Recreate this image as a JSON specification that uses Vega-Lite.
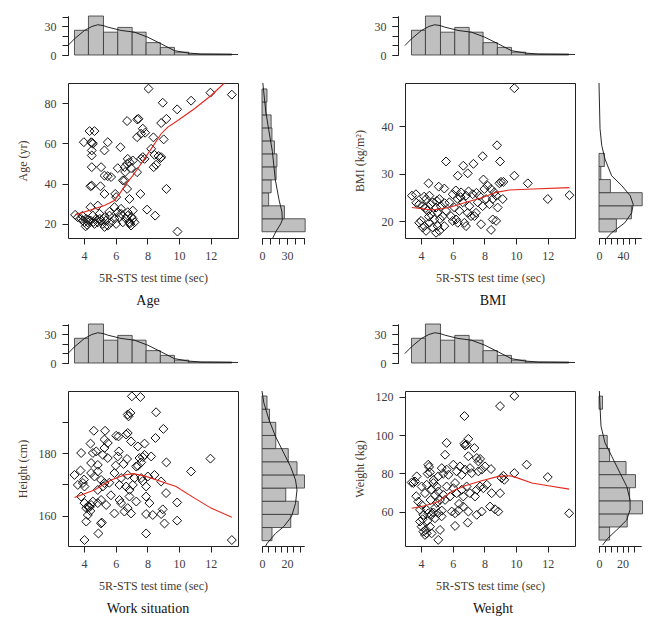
{
"$schema": "https://vega.github.io/schema/vega-lite/v6.json",
"padding": {"left": 15, "top": 15, "right": 5, "bottom": 5},
"config": {
 "font": "Liberation Serif",
 "view": {"stroke": null},
 "axis": {"grid": false, "labelFont": "Liberation Serif", "titleFont": "Liberation Serif", "labelFontSize": 12, "titleFontSize": 12, "titleFontWeight": "normal", "labelColor": "#3d3d3d", "titleColor": "#4a3b30", "tickColor": "#222", "domainColor": "#222", "tickSize": 6, "labelPadding": 6, "labelFlush": false, "labelOverlap": false},
 "title": {"font": "Liberation Serif", "fontSize": 14, "fontWeight": "normal", "color": "#111"}
},
"datasets": {
 "empty": [],
 "topbins": [{"x0":3.4,"x1":4.28,"n":26},{"x0":4.28,"x1":5.23,"n":41},{"x0":5.23,"x1":6.13,"n":24},{"x0":6.13,"x1":7.04,"n":29},{"x0":7.04,"x1":7.92,"n":24},{"x0":7.92,"x1":8.82,"n":13},{"x0":8.82,"x1":9.71,"n":8},{"x0":9.71,"x1":10.61,"n":3},{"x0":10.61,"x1":11.54,"n":1},{"x0":11.54,"x1":12.45,"n":1},{"x0":12.45,"x1":13.33,"n":1}],
 "topdens": [{"x":2.98,"d":9.9},{"x":3.4,"d":17},{"x":4.03,"d":25.8},{"x":4.5,"d":30},{"x":4.87,"d":31.8},{"x":5.2,"d":31},{"x":5.5,"d":29.3},{"x":6.34,"d":25.8},{"x":7.18,"d":24},{"x":8.03,"d":18.7},{"x":8.87,"d":11.7},{"x":9.7,"d":4.6},{"x":10.55,"d":2.1},{"x":11.4,"d":1},{"x":12.45,"d":0.8},{"x":13.72,"d":0.5}],
 "age_pts": [{"x":8.07,"v":87.2},{"x":11.98,"v":85.2},{"x":13.33,"v":84.2},{"x":8.97,"v":80.2},{"x":10.76,"v":81.2},{"x":9.88,"v":76.9},{"x":6.72,"v":71.1},{"x":7.44,"v":72.2},{"x":7.36,"v":71.9},{"x":8.87,"v":70.1},{"x":9.2,"v":72.2},{"x":7.71,"v":67.3},{"x":7.6,"v":64.8},{"x":7.35,"v":63.1},{"x":7.86,"v":65.3},{"x":8.38,"v":63},{"x":9.03,"v":62},{"x":4.35,"v":66.1},{"x":4.66,"v":66.1},{"x":3.99,"v":60.6},{"x":4.45,"v":60.6},{"x":4.51,"v":60.3},{"x":4.56,"v":59.8},{"x":5.5,"v":60.6},{"x":5.29,"v":56.5},{"x":4.49,"v":56.5},{"x":4.49,"v":54},{"x":6.3,"v":58.1},{"x":6.76,"v":52.3},{"x":6.87,"v":50.6},{"x":7.08,"v":51.5},{"x":6.72,"v":49.8},{"x":7.6,"v":52.3},{"x":7.71,"v":53.2},{"x":7.82,"v":52.3},{"x":8.24,"v":57.3},{"x":8.45,"v":54.3},{"x":8.7,"v":53.7},{"x":8.87,"v":53.2},{"x":8.83,"v":52.7},{"x":8.4,"v":48.2},{"x":8.55,"v":49.4},{"x":7.35,"v":45.7},{"x":6.13,"v":47.7},{"x":6.56,"v":48.2},{"x":6.97,"v":47.7},{"x":6.6,"v":45.8},{"x":4.49,"v":48.2},{"x":5.08,"v":48.2},{"x":5.5,"v":43.7},{"x":5.29,"v":44},{"x":5.71,"v":43.3},{"x":4.41,"v":38.7},{"x":4.49,"v":39},{"x":5.04,"v":38.7},{"x":5.29,"v":34.9},{"x":6.45,"v":41.6},{"x":6.56,"v":41.6},{"x":6.72,"v":37.4},{"x":7.56,"v":34.9},{"x":9.2,"v":37.4},{"x":5.97,"v":34.9},{"x":6.03,"v":33.3},{"x":5.92,"v":28.3},{"x":6.87,"v":32.4},{"x":6.34,"v":27.5},{"x":7.98,"v":27.1},{"x":8.49,"v":24.1},{"x":9.9,"v":16.2},{"x":4.87,"v":29.1},{"x":4.41,"v":28.3},{"x":3.44,"v":24.5},{"x":3.61,"v":23.3},{"x":3.82,"v":22.5},{"x":3.93,"v":21.7},{"x":4.03,"v":20.8},{"x":4.14,"v":22.5},{"x":4.24,"v":20.8},{"x":4.41,"v":21.7},{"x":4.56,"v":24.1},{"x":4.66,"v":20},{"x":4.77,"v":22.5},{"x":4.87,"v":20.8},{"x":4.98,"v":25},{"x":5.08,"v":21.7},{"x":5.19,"v":20},{"x":5.29,"v":23.3},{"x":5.4,"v":21.7},{"x":5.5,"v":19.2},{"x":5.61,"v":24.1},{"x":5.71,"v":20.8},{"x":5.92,"v":22.5},{"x":6.03,"v":20},{"x":6.13,"v":25.8},{"x":6.24,"v":23.3},{"x":6.34,"v":25},{"x":6.45,"v":20.8},{"x":6.66,"v":22.5},{"x":6.76,"v":24.1},{"x":6.87,"v":20.8},{"x":6.97,"v":19.2},{"x":7.08,"v":22.5},{"x":7.19,"v":20.8},{"x":6.76,"v":25.8},{"x":7.08,"v":26.6},{"x":4.2,"v":19.5},{"x":4.3,"v":22},{"x":3.9,"v":24},{"x":4.6,"v":21},{"x":5.0,"v":22.5},{"x":5.3,"v":18.5},{"x":4.1,"v":18.8},{"x":6.9,"v":20.3},{"x":7.0,"v":23.5},{"x":5.6,"v":26}],
 "age_loess": [{"x":3.44,"v":24.5},{"x":4.66,"v":27.5},{"x":5.29,"v":29.1},{"x":5.92,"v":31.6},{"x":6.24,"v":34.9},{"x":6.66,"v":39.9},{"x":7.08,"v":44},{"x":7.6,"v":49.9},{"x":8.24,"v":57.3},{"x":8.87,"v":64.8},{"x":9.29,"v":68.1},{"x":9.92,"v":71.4},{"x":10.97,"v":77.2},{"x":12.02,"v":83.8},{"x":12.86,"v":90}],
 "age_bins": [{"y0":16.1,"y1":22.55,"n":52},{"y0":22.55,"y1":29,"n":27},{"y0":29,"y1":35.45,"n":8},{"y0":35.45,"y1":41.9,"n":11},{"y0":41.9,"y1":48.35,"n":17},{"y0":48.35,"y1":54.8,"n":18},{"y0":54.8,"y1":61.25,"n":15},{"y0":61.25,"y1":67.7,"n":12},{"y0":67.7,"y1":74.15,"n":11},{"y0":74.15,"y1":80.6,"n":5},{"y0":80.6,"y1":87.05,"n":6}],
 "age_dens": [{"d":1,"y":90},{"d":4.5,"y":76},{"d":8,"y":67},{"d":12.5,"y":56},{"d":16,"y":42},{"d":20.5,"y":32},{"d":24,"y":26},{"d":24.5,"y":22},{"d":22.5,"y":20},{"d":16.5,"y":16},{"d":13,"y":13}],
 "bmi_pts": [{"x":9.89,"v":48},{"x":8.8,"v":36},{"x":5.58,"v":32.6},{"x":7.89,"v":33.7},{"x":6.67,"v":31.7},{"x":7.31,"v":32.1},{"x":8.99,"v":32.6},{"x":6.32,"v":29.6},{"x":6.95,"v":30.1},{"x":9.89,"v":29.6},{"x":10.74,"v":28},{"x":7.94,"v":28.8},{"x":9.05,"v":28.3},{"x":9.2,"v":28.3},{"x":8.95,"v":28},{"x":4.48,"v":28},{"x":5.12,"v":27.3},{"x":5.47,"v":26.9},{"x":3.43,"v":25.4},{"x":3.68,"v":25.7},{"x":12,"v":24.7},{"x":13.37,"v":25.5},{"x":8.74,"v":25.4},{"x":9.16,"v":24.7},{"x":8.84,"v":22.9},{"x":8.53,"v":20.4},{"x":7.79,"v":19.4},{"x":8.42,"v":18.2},{"x":8.74,"v":20.1},{"x":3.89,"v":23.6},{"x":4.11,"v":23.2},{"x":4.32,"v":24.7},{"x":4.42,"v":22.2},{"x":4.53,"v":25.4},{"x":4.63,"v":21.5},{"x":4.74,"v":24},{"x":4.84,"v":20.4},{"x":4.95,"v":22.9},{"x":5.05,"v":21.8},{"x":5.16,"v":24.7},{"x":5.26,"v":23.2},{"x":5.37,"v":21.1},{"x":5.47,"v":19},{"x":5.58,"v":22.2},{"x":5.79,"v":24},{"x":5.89,"v":21.1},{"x":6,"v":25.7},{"x":6.11,"v":22.9},{"x":6.21,"v":20.4},{"x":6.32,"v":24.7},{"x":6.42,"v":22.2},{"x":6.53,"v":26.1},{"x":6.63,"v":24},{"x":6.74,"v":19.7},{"x":6.84,"v":25.4},{"x":6.95,"v":21.8},{"x":7.05,"v":23.2},{"x":7.16,"v":21.1},{"x":7.26,"v":25.7},{"x":7.47,"v":21.8},{"x":7.58,"v":24},{"x":7.68,"v":25.4},{"x":7.89,"v":23.2},{"x":8,"v":26.8},{"x":8.11,"v":24.7},{"x":8.21,"v":27.5},{"x":8.32,"v":23.6},{"x":8.42,"v":26.8},{"x":8.53,"v":24.7},{"x":8.63,"v":26.1},{"x":4.21,"v":19},{"x":4.32,"v":18},{"x":4.53,"v":19.7},{"x":4.74,"v":18.7},{"x":4.95,"v":17.6},{"x":5.05,"v":19},{"x":5.16,"v":18},{"x":4.11,"v":18.7},{"x":4,"v":20.1},{"x":3.89,"v":19.7},{"x":6,"v":20.1},{"x":6.32,"v":19.7},{"x":6.84,"v":19},{"x":7.37,"v":21.1},{"x":4.3,"v":22.8},{"x":4.6,"v":23.5},{"x":5.0,"v":24.3},{"x":5.5,"v":23.8},{"x":4.2,"v":25.2},{"x":3.7,"v":23.9},{"x":6.5,"v":25.1},{"x":7.0,"v":26.3},{"x":7.5,"v":26},{"x":6.2,"v":26.5},{"x":4.5,"v":21},{"x":5.2,"v":20.5}],
 "bmi_loess": [{"x":3.43,"v":22.9},{"x":4.2,"v":22.6},{"x":4.74,"v":22.4},{"x":5.79,"v":22.9},{"x":6.84,"v":24},{"x":7.89,"v":25},{"x":8.74,"v":26.1},{"x":9.58,"v":26.6},{"x":11.05,"v":26.8},{"x":13.37,"v":27.1}],
 "bmi_bins": [{"y0":17.78,"y1":20.53,"n":29},{"y0":20.53,"y1":23.28,"n":54},{"y0":23.28,"y1":26.04,"n":72},{"y0":26.04,"y1":28.79,"n":19},{"y0":28.79,"y1":31.54,"n":3},{"y0":31.54,"y1":34.29,"n":9}],
 "bmi_dens": [{"d":0,"y":49.1},{"d":1.7,"y":39.5},{"d":4.5,"y":36},{"d":10,"y":33.1},{"d":21,"y":29.6},{"d":38,"y":27.5},{"d":52,"y":25.4},{"d":57,"y":23.6},{"d":54.5,"y":21.8},{"d":43,"y":19.7},{"d":21,"y":17.6},{"d":13,"y":16.5}],
 "ht_pts": [{"x":7.02,"v":198.1},{"x":7.56,"v":197.9},{"x":6.76,"v":192.3},{"x":6.81,"v":191.7},{"x":6.93,"v":192.8},{"x":8.55,"v":193},{"x":4.62,"v":187.1},{"x":5.33,"v":187.1},{"x":6.18,"v":185.3},{"x":6.03,"v":185.5},{"x":6.66,"v":185.9},{"x":6.76,"v":186.4},{"x":9.01,"v":187.7},{"x":4.41,"v":183},{"x":5.29,"v":184.3},{"x":5.5,"v":183.2},{"x":7.4,"v":182.1},{"x":7.82,"v":183},{"x":8.51,"v":184.8},{"x":6.97,"v":183.7},{"x":3.82,"v":180},{"x":4.56,"v":180},{"x":4.77,"v":180.5},{"x":5.19,"v":179.4},{"x":5.29,"v":181.6},{"x":5.5,"v":178.4},{"x":6.13,"v":178.9},{"x":6.72,"v":178.1},{"x":7.5,"v":178.4},{"x":7.71,"v":178.7},{"x":7.82,"v":179.4},{"x":7.61,"v":177},{"x":7.4,"v":175.9},{"x":7.29,"v":175.7},{"x":8.24,"v":178.9},{"x":9.2,"v":177},{"x":11.98,"v":178.2},{"x":10.76,"v":174.1},{"x":3.4,"v":173},{"x":3.78,"v":174.4},{"x":4.45,"v":173.6},{"x":4.66,"v":172.5},{"x":4.87,"v":174.1},{"x":4.45,"v":176.8},{"x":4.87,"v":176.2},{"x":3.61,"v":169.8},{"x":3.93,"v":170.4},{"x":4.03,"v":169.3},{"x":5.08,"v":171.4},{"x":5.29,"v":170.4},{"x":4.87,"v":168.2},{"x":5.19,"v":169.3},{"x":5.92,"v":173.6},{"x":6.34,"v":172},{"x":6.76,"v":173},{"x":7.19,"v":172},{"x":7.61,"v":172},{"x":8.03,"v":172.5},{"x":8.45,"v":173},{"x":6.24,"v":169.8},{"x":6.66,"v":169.3},{"x":6.87,"v":168.2},{"x":7.08,"v":169.8},{"x":7.92,"v":169.3},{"x":8.87,"v":170.9},{"x":9.18,"v":167.2},{"x":9.88,"v":164.2},{"x":9.88,"v":158.4},{"x":3.82,"v":166.1},{"x":4.03,"v":164},{"x":4.14,"v":162.4},{"x":4.24,"v":162.9},{"x":4.35,"v":162.7},{"x":4.45,"v":163.4},{"x":4.56,"v":164.5},{"x":4.24,"v":160.2},{"x":4.14,"v":158.1},{"x":5.08,"v":165},{"x":5.4,"v":163.4},{"x":4.87,"v":164},{"x":5.92,"v":160.7},{"x":6.24,"v":165},{"x":6.34,"v":164},{"x":6.55,"v":161.3},{"x":6.76,"v":162.4},{"x":6.97,"v":160.7},{"x":6.87,"v":166.1},{"x":7.92,"v":160.5},{"x":8.13,"v":164},{"x":7.92,"v":166.1},{"x":8.34,"v":160.2},{"x":8.87,"v":160.5},{"x":8.97,"v":162},{"x":9.08,"v":157.5},{"x":5.08,"v":157.5},{"x":5.12,"v":157.8},{"x":4.91,"v":154.3},{"x":4.03,"v":152.2},{"x":7.92,"v":154.3},{"x":13.33,"v":152.2},{"x":4.3,"v":163},{"x":4.4,"v":161.5},{"x":5.6,"v":170.5},{"x":6.0,"v":176},{"x":6.5,"v":176.5},{"x":5.7,"v":166.5},{"x":7.3,"v":164.5},{"x":7.7,"v":171},{"x":4.0,"v":171.5},{"x":6.2,"v":180.5}],
 "ht_loess": [{"x":3.4,"v":165.8},{"x":4.66,"v":168.2},{"x":5.71,"v":171.4},{"x":6.55,"v":173},{"x":7.08,"v":173.4},{"x":7.82,"v":172.7},{"x":8.87,"v":170.9},{"x":9.81,"v":169.3},{"x":10.97,"v":165.6},{"x":12.02,"v":162.4},{"x":13.33,"v":159.5}],
 "ht_bins": [{"y0":152,"y1":156.2,"n":8},{"y0":156.2,"y1":160.4,"n":23},{"y0":160.4,"y1":164.6,"n":29},{"y0":164.6,"y1":168.8,"n":19},{"y0":168.8,"y1":173,"n":34},{"y0":173,"y1":177.2,"n":28},{"y0":177.2,"y1":181.4,"n":21},{"y0":181.4,"y1":185.6,"n":11},{"y0":185.6,"y1":189.8,"n":11},{"y0":189.8,"y1":194,"n":6},{"y0":194,"y1":198.2,"n":4}],
 "ht_dens": [{"d":0,"y":199.8},{"d":1.5,"y":196},{"d":5.5,"y":190.7},{"d":10.8,"y":185.3},{"d":17.4,"y":180},{"d":22.8,"y":175.7},{"d":26.8,"y":171.4},{"d":28,"y":168.2},{"d":26.8,"y":163.9},{"d":23.6,"y":159.7},{"d":17.4,"y":156.5},{"d":10.8,"y":154.3},{"d":4,"y":151.1},{"d":3,"y":150.3}],
 "wt_pts": [{"x":9.89,"v":120.4},{"x":8.99,"v":115.1},{"x":6.74,"v":109.9},{"x":5.62,"v":95.9},{"x":6.99,"v":98},{"x":6.88,"v":95},{"x":6.99,"v":88.9},{"x":6.78,"v":94.5},{"x":6.74,"v":95.5},{"x":7.37,"v":93.2},{"x":7.52,"v":88},{"x":7.62,"v":86.2},{"x":7.73,"v":87.5},{"x":10.67,"v":84.5},{"x":9.89,"v":80.1},{"x":12,"v":78},{"x":13.35,"v":59.1},{"x":9.2,"v":78.7},{"x":9.26,"v":76.6},{"x":9.09,"v":77.5},{"x":4.46,"v":84.5},{"x":4.51,"v":83.3},{"x":4.57,"v":80.5},{"x":4.42,"v":79.8},{"x":3.52,"v":74.9},{"x":3.41,"v":75.2},{"x":3.73,"v":78.4},{"x":3.62,"v":75.7},{"x":5.52,"v":89.7},{"x":5.31,"v":82.7},{"x":5.09,"v":78.4},{"x":5.41,"v":79.8},{"x":5.62,"v":81.9},{"x":5.73,"v":79.2},{"x":6.04,"v":84.5},{"x":6.25,"v":81},{"x":6.46,"v":83.6},{"x":6.57,"v":79.2},{"x":6.78,"v":81.9},{"x":7.09,"v":82.7},{"x":7.2,"v":80.1},{"x":7.62,"v":81},{"x":7.83,"v":81.9},{"x":8.04,"v":83.6},{"x":8.42,"v":82.2},{"x":4.04,"v":73.1},{"x":4.25,"v":69.6},{"x":4.36,"v":74},{"x":4.67,"v":71.4},{"x":4.78,"v":74.9},{"x":4.88,"v":68.7},{"x":4.99,"v":73.1},{"x":5.09,"v":70.5},{"x":5.2,"v":66.1},{"x":5.41,"v":68.7},{"x":5.62,"v":73.1},{"x":5.83,"v":67.9},{"x":6.04,"v":72.2},{"x":6.15,"v":74.9},{"x":6.25,"v":69.6},{"x":6.57,"v":71.4},{"x":6.67,"v":67.9},{"x":6.88,"v":73.1},{"x":7.09,"v":69.6},{"x":7.41,"v":67.9},{"x":7.52,"v":71.4},{"x":7.73,"v":73.1},{"x":7.94,"v":72.2},{"x":8.15,"v":74},{"x":8.46,"v":69.6},{"x":8.99,"v":69.6},{"x":3.83,"v":65.2},{"x":3.94,"v":60.9},{"x":4.04,"v":63.5},{"x":4.15,"v":58.3},{"x":4.36,"v":60.9},{"x":4.46,"v":59.1},{"x":4.67,"v":58.3},{"x":4.78,"v":59.5},{"x":4.88,"v":56.5},{"x":5.09,"v":59.1},{"x":5.31,"v":60.5},{"x":5.52,"v":66.1},{"x":5.94,"v":60},{"x":6.15,"v":59.1},{"x":6.36,"v":60.5},{"x":6.67,"v":62.6},{"x":6.99,"v":60},{"x":7.52,"v":58.3},{"x":7.83,"v":60},{"x":8.36,"v":62.6},{"x":8.67,"v":61.2},{"x":8.88,"v":60},{"x":3.94,"v":54.8},{"x":4.04,"v":52.1},{"x":4.15,"v":49.5},{"x":4.36,"v":48.6},{"x":4.25,"v":47.8},{"x":4.57,"v":52.1},{"x":4.67,"v":48.6},{"x":5.09,"v":45.2},{"x":5.2,"v":50.4},{"x":6.15,"v":52.5},{"x":6.95,"v":54.2},{"x":4.1,"v":56},{"x":4.4,"v":55},{"x":4.9,"v":62},{"x":5.0,"v":64.5},{"x":4.6,"v":66},{"x":5.3,"v":57.5},{"x":4.3,"v":50.5},{"x":4.8,"v":76.5},{"x":6.4,"v":64},{"x":3.7,"v":68}],
 "wt_loess": [{"x":3.41,"v":61.7},{"x":4.25,"v":63},{"x":5.09,"v":65.2},{"x":5.94,"v":70.5},{"x":6.78,"v":73.5},{"x":7.83,"v":76.1},{"x":8.88,"v":78.4},{"x":9.62,"v":78.7},{"x":9.94,"v":78},{"x":11.0,"v":74.9},{"x":12.04,"v":73.5},{"x":13.35,"v":71.7}],
 "wt_bins": [{"y0":45.1,"y1":51.94,"n":9},{"y0":51.94,"y1":58.78,"n":24},{"y0":58.78,"y1":65.62,"n":37},{"y0":65.62,"y1":72.46,"n":26},{"y0":72.46,"y1":79.3,"n":31},{"y0":79.3,"y1":86.14,"n":23},{"y0":86.14,"y1":92.98,"n":9},{"y0":92.98,"y1":99.82,"n":7},{"y0":113.5,"y1":120.34,"n":3}],
 "wt_dens": [{"d":0.3,"y":123},{"d":0.85,"y":115},{"d":1.7,"y":104.6},{"d":5.1,"y":95.9},{"d":10.8,"y":88.9},{"d":17.9,"y":80.1},{"d":23.6,"y":73.1},{"d":26.4,"y":66.1},{"d":26.4,"y":60.9},{"d":23.6,"y":55.6},{"d":15.1,"y":50.4},{"d":7.4,"y":46},{"d":3.1,"y":42.5}]
},
"columns": 5,
"align": "each",
"bounds": "flush",
"spacing": {"row": 28, "column": 24},
"concat": [
 {"width": 170, "height": 39, "resolve": {"axis": {"y": "independent"}}, "layer": [
  {"data": {"name": "topbins"}, "mark": {"type": "rect", "fill": "#bfbfbf", "stroke": "#333", "strokeWidth": 0.8},
   "encoding": {"x": {"field": "x0", "type": "quantitative", "scale": {"domain": [2.99, 13.72], "nice": false, "zero": false}, "axis": null}, "x2": {"field": "x1"},
    "y": {"field": "n", "type": "quantitative", "scale": {"domain": [0, 41], "nice": false}, "axis": {"values": [0,10,20,30,40], "labels": false, "title": null, "orient": "left"}}, "y2": {"datum": 0}}},
  {"data": {"name": "topdens"}, "mark": {"type": "line", "color": "#111", "strokeWidth": 0.9},
   "encoding": {"x": {"field": "x", "type": "quantitative"}, "y": {"field": "d", "type": "quantitative", "axis": {"values": [0,30], "title": null, "orient": "left"}}}}
 ]},
 {"width": 1, "height": 1, "data": {"name": "empty"}, "mark": "point"},
 {"width": 52.5, "height": 1, "data": {"name": "empty"}, "mark": "point"},
 {"width": 170, "height": 39, "resolve": {"axis": {"y": "independent"}}, "layer": [
  {"data": {"name": "topbins"}, "mark": {"type": "rect", "fill": "#bfbfbf", "stroke": "#333", "strokeWidth": 0.8},
   "encoding": {"x": {"field": "x0", "type": "quantitative", "scale": {"domain": [2.99, 13.72], "nice": false, "zero": false}, "axis": null}, "x2": {"field": "x1"},
    "y": {"field": "n", "type": "quantitative", "scale": {"domain": [0, 41], "nice": false}, "axis": {"values": [0,10,20,30,40], "labels": false, "title": null, "offset": 7, "orient": "left"}}, "y2": {"datum": 0}}},
  {"data": {"name": "topdens"}, "mark": {"type": "line", "color": "#111", "strokeWidth": 0.9},
   "encoding": {"x": {"field": "x", "type": "quantitative"}, "y": {"field": "d", "type": "quantitative", "axis": {"values": [0,30], "title": null, "offset": 7, "orient": "left"}}}}
 ]},
 {"width": 1, "height": 1, "data": {"name": "empty"}, "mark": "point"},

 {"width": 170, "height": 155, "view": {"stroke": "#222", "strokeWidth": 1},
  "title": {"text": "Age", "orient": "bottom", "anchor": "middle", "frame": "group", "offset": 11, "dx": -5},
  "layer": [
   {"data": {"name": "age_pts"}, "mark": {"type": "point", "shape": "diamond", "filled": false, "size": 80, "stroke": "#111", "strokeWidth": 1, "opacity": 1},
    "encoding": {"x": {"field": "x", "type": "quantitative", "scale": {"domain": [2.99, 13.72], "nice": false, "zero": false}, "axis": {"values": [4,6,8,10,12], "title": "5R-STS test time (sec)", "domain": false, "labelPadding": 6.5, "titleY": 39, "titleBaseline": "middle"}},
     "y": {"field": "v", "type": "quantitative", "scale": {"domain": [13, 90], "nice": false, "zero": false}, "axis": {"values": [20,30,40,50,60,70,80], "labelExpr": "datum.value % 20 == 0 ? datum.label : ''", "title": "Age (yr)", "domain": false, "titleX": -46, "titleY": 77.5, "titleBaseline": "middle"}}}},
   {"data": {"name": "age_loess"}, "mark": {"type": "line", "color": "#e3261b", "strokeWidth": 1.1},
    "encoding": {"x": {"field": "x", "type": "quantitative"}, "y": {"field": "v", "type": "quantitative"}}}
  ]},
 {"width": 42, "height": 155, "resolve": {"axis": {"x": "independent"}}, "layer": [
   {"data": {"name": "age_bins"}, "mark": {"type": "rect", "fill": "#bfbfbf", "stroke": "#333", "strokeWidth": 0.8},
    "encoding": {"y": {"field": "y0", "type": "quantitative", "scale": {"domain": [13, 90], "nice": false, "zero": false}, "axis": null}, "y2": {"field": "y1"},
     "x": {"field": "n", "type": "quantitative", "scale": {"domain": [0, 50.6], "nice": false}, "axis": {"values": [0,10,20,30,40,50], "labels": false, "title": null, "orient": "bottom"}}, "x2": {"datum": 0}}},
   {"data": {"name": "age_dens"}, "mark": {"type": "line", "color": "#111", "strokeWidth": 0.9},
    "encoding": {"x": {"field": "d", "type": "quantitative", "axis": {"values": [0,30], "title": null, "labelPadding": 6.5, "orient": "bottom"}}, "y": {"field": "y", "type": "quantitative"}, "order": {"field": "y", "type": "quantitative"}}}
 ]},
 {"width": 1, "height": 1, "data": {"name": "empty"}, "mark": "point"},
 {"width": 170, "height": 155, "view": {"stroke": "#222", "strokeWidth": 1},
  "title": {"text": "BMI", "orient": "bottom", "anchor": "middle", "frame": "group", "offset": 11, "dx": 3},
  "layer": [
   {"data": {"name": "bmi_pts"}, "mark": {"type": "point", "shape": "diamond", "filled": false, "size": 80, "stroke": "#111", "strokeWidth": 1, "opacity": 1},
    "encoding": {"x": {"field": "x", "type": "quantitative", "scale": {"domain": [2.99, 13.72], "nice": false, "zero": false}, "axis": {"values": [4,6,8,10,12], "title": "5R-STS test time (sec)", "domain": false, "labelPadding": 6.5, "titleY": 39, "titleBaseline": "middle"}},
     "y": {"field": "v", "type": "quantitative", "scale": {"domain": [16.5, 49.1], "nice": false, "zero": false}, "axis": {"values": [20,25,30,35,40,45], "labelExpr": "datum.value % 10 == 0 ? datum.label : ''", "title": "BMI (kg/m²)", "domain": false, "titleX": -46, "titleY": 77.5, "titleBaseline": "middle"}}}},
   {"data": {"name": "bmi_loess"}, "mark": {"type": "line", "color": "#e3261b", "strokeWidth": 1.1},
    "encoding": {"x": {"field": "x", "type": "quantitative"}, "y": {"field": "v", "type": "quantitative"}}}
  ]},
 {"width": 42, "height": 155, "resolve": {"axis": {"x": "independent"}}, "layer": [
   {"data": {"name": "bmi_bins"}, "mark": {"type": "rect", "fill": "#bfbfbf", "stroke": "#333", "strokeWidth": 0.8},
    "encoding": {"y": {"field": "y0", "type": "quantitative", "scale": {"domain": [16.5, 49.1], "nice": false, "zero": false}, "axis": null}, "y2": {"field": "y1"},
     "x": {"field": "n", "type": "quantitative", "scale": {"domain": [0, 70], "nice": false}, "axis": {"values": [0,10,20,30,40,50,60], "labels": false, "title": null, "orient": "bottom"}}, "x2": {"datum": 0}}},
   {"data": {"name": "bmi_dens"}, "mark": {"type": "line", "color": "#111", "strokeWidth": 0.9},
    "encoding": {"x": {"field": "d", "type": "quantitative", "axis": {"values": [0,40], "title": null, "labelPadding": 6.5, "orient": "bottom"}}, "y": {"field": "y", "type": "quantitative"}, "order": {"field": "y", "type": "quantitative"}}}
 ]},

 {"width": 1, "height": 29.7, "data": {"name": "empty"}, "mark": "point"},
 {"width": 1, "height": 1, "data": {"name": "empty"}, "mark": "point"},
 {"width": 1, "height": 1, "data": {"name": "empty"}, "mark": "point"},
 {"width": 1, "height": 1, "data": {"name": "empty"}, "mark": "point"},
 {"width": 1, "height": 1, "data": {"name": "empty"}, "mark": "point"},

 {"width": 170, "height": 39, "resolve": {"axis": {"y": "independent"}}, "layer": [
  {"data": {"name": "topbins"}, "mark": {"type": "rect", "fill": "#bfbfbf", "stroke": "#333", "strokeWidth": 0.8},
   "encoding": {"x": {"field": "x0", "type": "quantitative", "scale": {"domain": [2.99, 13.72], "nice": false, "zero": false}, "axis": null}, "x2": {"field": "x1"},
    "y": {"field": "n", "type": "quantitative", "scale": {"domain": [0, 41], "nice": false}, "axis": {"values": [0,10,20,30,40], "labels": false, "title": null, "orient": "left"}}, "y2": {"datum": 0}}},
  {"data": {"name": "topdens"}, "mark": {"type": "line", "color": "#111", "strokeWidth": 0.9},
   "encoding": {"x": {"field": "x", "type": "quantitative"}, "y": {"field": "d", "type": "quantitative", "axis": {"values": [0,30], "title": null, "orient": "left"}}}}
 ]},
 {"width": 1, "height": 1, "data": {"name": "empty"}, "mark": "point"},
 {"width": 1, "height": 1, "data": {"name": "empty"}, "mark": "point"},
 {"width": 170, "height": 39, "resolve": {"axis": {"y": "independent"}}, "layer": [
  {"data": {"name": "topbins"}, "mark": {"type": "rect", "fill": "#bfbfbf", "stroke": "#333", "strokeWidth": 0.8},
   "encoding": {"x": {"field": "x0", "type": "quantitative", "scale": {"domain": [2.99, 13.72], "nice": false, "zero": false}, "axis": null}, "x2": {"field": "x1"},
    "y": {"field": "n", "type": "quantitative", "scale": {"domain": [0, 41], "nice": false}, "axis": {"values": [0,10,20,30,40], "labels": false, "title": null, "offset": 7, "orient": "left"}}, "y2": {"datum": 0}}},
  {"data": {"name": "topdens"}, "mark": {"type": "line", "color": "#111", "strokeWidth": 0.9},
   "encoding": {"x": {"field": "x", "type": "quantitative"}, "y": {"field": "d", "type": "quantitative", "axis": {"values": [0,30], "title": null, "offset": 7, "orient": "left"}}}}
 ]},
 {"width": 1, "height": 1, "data": {"name": "empty"}, "mark": "point"},

 {"width": 170, "height": 155, "view": {"stroke": "#222", "strokeWidth": 1},
  "title": {"text": "Work situation", "orient": "bottom", "anchor": "middle", "frame": "group", "offset": 11, "dx": -5},
  "layer": [
   {"data": {"name": "ht_pts"}, "mark": {"type": "point", "shape": "diamond", "filled": false, "size": 80, "stroke": "#111", "strokeWidth": 1, "opacity": 1},
    "encoding": {"x": {"field": "x", "type": "quantitative", "scale": {"domain": [2.99, 13.72], "nice": false, "zero": false}, "axis": {"values": [4,6,8,10,12], "title": "5R-STS test time (sec)", "domain": false, "labelPadding": 6.5, "titleY": 39, "titleBaseline": "middle"}},
     "y": {"field": "v", "type": "quantitative", "scale": {"domain": [150.3, 199.8], "nice": false, "zero": false}, "axis": {"values": [160,170,180,190], "labelExpr": "datum.value % 20 == 0 ? datum.label : ''", "title": "Height (cm)", "domain": false, "titleX": -46, "titleY": 77.5, "titleBaseline": "middle"}}}},
   {"data": {"name": "ht_loess"}, "mark": {"type": "line", "color": "#e3261b", "strokeWidth": 1.1},
    "encoding": {"x": {"field": "x", "type": "quantitative"}, "y": {"field": "v", "type": "quantitative"}}}
  ]},
 {"width": 42, "height": 155, "resolve": {"axis": {"x": "independent"}}, "layer": [
   {"data": {"name": "ht_bins"}, "mark": {"type": "rect", "fill": "#bfbfbf", "stroke": "#333", "strokeWidth": 0.8},
    "encoding": {"y": {"field": "y0", "type": "quantitative", "scale": {"domain": [150.3, 199.8], "nice": false, "zero": false}, "axis": null}, "y2": {"field": "y1"},
     "x": {"field": "n", "type": "quantitative", "scale": {"domain": [0, 33.6], "nice": false}, "axis": {"values": [0,5,10,15,20,25,30], "labels": false, "title": null, "orient": "bottom"}}, "x2": {"datum": 0}}},
   {"data": {"name": "ht_dens"}, "mark": {"type": "line", "color": "#111", "strokeWidth": 0.9},
    "encoding": {"x": {"field": "d", "type": "quantitative", "axis": {"values": [0,20], "title": null, "labelPadding": 6.5, "orient": "bottom"}}, "y": {"field": "y", "type": "quantitative"}, "order": {"field": "y", "type": "quantitative"}}}
 ]},
 {"width": 1, "height": 1, "data": {"name": "empty"}, "mark": "point"},
 {"width": 170, "height": 155, "view": {"stroke": "#222", "strokeWidth": 1},
  "title": {"text": "Weight", "orient": "bottom", "anchor": "middle", "frame": "group", "offset": 11, "dx": 3},
  "layer": [
   {"data": {"name": "wt_pts"}, "mark": {"type": "point", "shape": "diamond", "filled": false, "size": 80, "stroke": "#111", "strokeWidth": 1, "opacity": 1},
    "encoding": {"x": {"field": "x", "type": "quantitative", "scale": {"domain": [2.99, 13.72], "nice": false, "zero": false}, "axis": {"values": [4,6,8,10,12], "title": "5R-STS test time (sec)", "domain": false, "labelPadding": 6.5, "titleY": 39, "titleBaseline": "middle"}},
     "y": {"field": "v", "type": "quantitative", "scale": {"domain": [42, 123], "nice": false, "zero": false}, "axis": {"values": [60,80,100,120], "title": "Weight (kg)", "domain": false, "titleX": -46, "titleY": 77.5, "titleBaseline": "middle"}}}},
   {"data": {"name": "wt_loess"}, "mark": {"type": "line", "color": "#e3261b", "strokeWidth": 1.1},
    "encoding": {"x": {"field": "x", "type": "quantitative"}, "y": {"field": "v", "type": "quantitative"}}}
  ]},
 {"width": 42, "height": 155, "resolve": {"axis": {"x": "independent"}}, "layer": [
   {"data": {"name": "wt_bins"}, "mark": {"type": "rect", "fill": "#bfbfbf", "stroke": "#333", "strokeWidth": 0.8},
    "encoding": {"y": {"field": "y0", "type": "quantitative", "scale": {"domain": [42, 123], "nice": false, "zero": false}, "axis": null}, "y2": {"field": "y1"},
     "x": {"field": "n", "type": "quantitative", "scale": {"domain": [0, 35.7], "nice": false}, "axis": {"values": [0,5,10,15,20,25,30], "labels": false, "title": null, "orient": "bottom"}}, "x2": {"datum": 0}}},
   {"data": {"name": "wt_dens"}, "mark": {"type": "line", "color": "#111", "strokeWidth": 0.9},
    "encoding": {"x": {"field": "d", "type": "quantitative", "axis": {"values": [0,20], "title": null, "labelPadding": 6.5, "orient": "bottom"}}, "y": {"field": "y", "type": "quantitative"}, "order": {"field": "y", "type": "quantitative"}}}
 ]}
]
}
